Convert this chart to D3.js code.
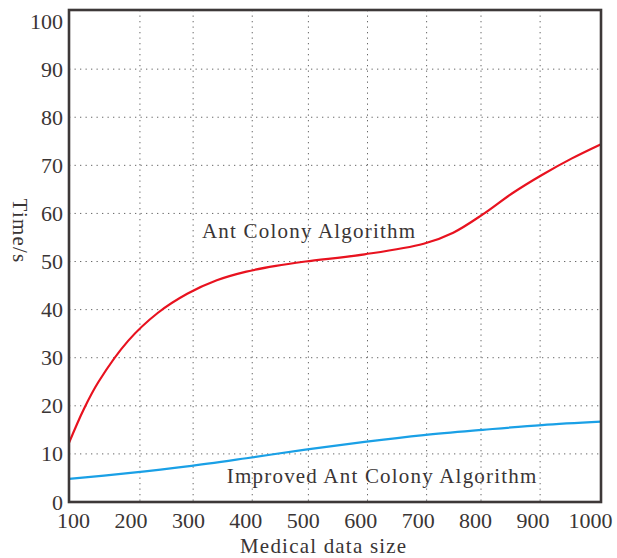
<!DOCTYPE html>
<html>
<head>
<meta charset="utf-8">
<script src="https://cdn.jsdelivr.net/npm/d3@7"></script>
<style>
  body { margin: 0; background: #fff; }
  text { font-family: "Liberation Serif", "Times New Roman", serif; fill: #3a3535; }
</style>
</head>
<body>
<script>
// chart data
var antSizes = [100, 125, 150, 200, 250, 300, 350, 400, 450, 500, 600, 700, 750, 800, 850, 900, 950, 1000];
var antColony = [12.3, 19.3, 25, 33.5, 39.3, 43.3, 46.1, 47.9, 49.1, 50, 51.5, 53.7, 56, 59.8, 64.2, 68, 71.4, 74.4];
var impSizes = [100, 200, 300, 400, 500, 600, 700, 800, 900, 1000];
var improved = [4.8, 6.0, 7.4, 9.1, 10.9, 12.5, 13.9, 15.0, 16.0, 16.7];
var xTicks = [100, 200, 300, 400, 500, 600, 700, 800, 900, 1000];
var yTicks = [0, 10, 20, 30, 40, 50, 60, 70, 80, 90, 100];
var gridX = [220, 310, 410, 505, 605, 705, 797, 897]; // vertical grid sits off the labels in the original
var gridY = [10, 20, 30, 40, 50, 60, 70, 80, 90];

var W = 617, H = 558;
var margin = {top: 10, right: 16, bottom: 56, left: 69};
var w = W - margin.left - margin.right;
var h = H - margin.top - margin.bottom;

var svg = d3.select("body").append("svg")
    .attr("width", W)
    .attr("height", H);
var g = svg.append("g").attr("transform", "translate(" + margin.left + "," + margin.top + ")");

var x = d3.scaleLinear().domain([100, 1000]).range([0, w]);
// tick labels are spread a bit narrower than the data
var xLab = d3.scaleLinear().domain([100, 1000]).range([4, w - 11]);
var y = d3.scaleLinear().domain([0, 102.3]).range([h, 0]);

// grid
g.selectAll(".gx").data(gridX).enter().append("line")
    .attr("x1", function(d) { return x(d); })
    .attr("x2", function(d) { return x(d); })
    .attr("y1", 0).attr("y2", h)
    .attr("stroke", "#666").attr("stroke-width", 1)
    .attr("stroke-dasharray", "1.3,4.2");
g.selectAll(".gy").data(gridY).enter().append("line")
    .attr("x1", 0).attr("x2", w)
    .attr("y1", function(d) { return y(d); })
    .attr("y2", function(d) { return y(d); })
    .attr("stroke", "#666").attr("stroke-width", 1)
    .attr("stroke-dasharray", "1.3,4.2");

// axes
var xAxis = g.append("g")
    .attr("transform", "translate(0," + h + ")")
    .call(d3.axisBottom(xLab).tickValues(xTicks).tickSize(0).tickPadding(10).tickFormat(d3.format("d")));
xAxis.select(".domain").remove();
xAxis.selectAll("text").style("font-size", "22px").attr("fill", "#3a3535");

var yAxis = g.append("g")
    .call(d3.axisLeft(y).tickValues(yTicks).tickSize(0).tickPadding(6).tickFormat(d3.format("d")));
yAxis.select(".domain").remove();
yAxis.selectAll("text").style("font-size", "22px").attr("fill", "#3a3535");

// lines
var line = d3.line()
    .x(function(d) { return x(d[0]); })
    .y(function(d) { return y(d[1]); })
    .curve(d3.curveCatmullRom.alpha(0.5));

g.append("path")
    .datum(d3.zip(impSizes, improved))
    .attr("d", line)
    .attr("fill", "none")
    .attr("stroke", "#1aa0e6")
    .attr("stroke-width", 2.2);

g.append("path")
    .datum(d3.zip(antSizes, antColony))
    .attr("d", line)
    .attr("fill", "none")
    .attr("stroke", "#e8121f")
    .attr("stroke-width", 2.2);

// frame
g.append("rect")
    .attr("x", 0).attr("y", 0)
    .attr("width", w).attr("height", h)
    .attr("fill", "none")
    .attr("stroke", "#3d3838")
    .attr("stroke-width", 2.6);

// labels
g.append("text")
    .attr("x", x(325)).attr("y", y(54.9))
    .style("font-size", "21px").style("letter-spacing", "1.2px")
    .text("Ant Colony Algorithm");

g.append("text")
    .attr("x", x(367)).attr("y", y(3.95))
    .style("font-size", "21px").style("letter-spacing", "1.2px")
    .text("Improved Ant Colony Algorithm");

svg.append("text")
    .attr("x", 240).attr("y", 553)
    .style("font-size", "21px").style("letter-spacing", "1.2px")
    .text("Medical data size");

svg.append("text")
    .attr("transform", "translate(13,231) rotate(90)")
    .attr("text-anchor", "middle")
    .style("font-size", "21px").style("letter-spacing", "1.2px")
    .text("Time/s");
</script>
</body>
</html>
